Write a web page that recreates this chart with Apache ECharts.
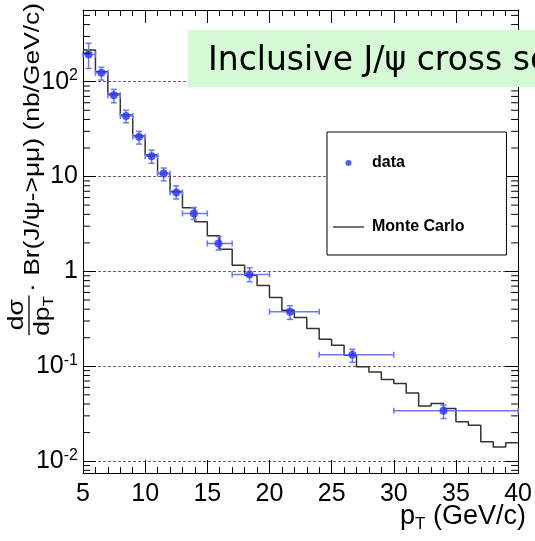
<!DOCTYPE html>
<html><head><meta charset="utf-8">
<script src="https://cdn.jsdelivr.net/npm/echarts@6/dist/echarts.min.js"></script>
<style>html,body{margin:0;padding:0;background:#fff}#c{width:535px;height:541px}</style>
</head><body><div id="c"></div>
<script>
// ---- data ----
const mcBinEdges = [5,6,7,8,9,10,11,12,13,14,15,16,17,18,19,20,21,22,23,24,25,26,27,28,29,30,31,32,33,34,35,36,37,38,39,40];
const mcValues = [216,127,74,44.6,26.7,16.9,10.8,6.95,4.7,3.33,2.38,1.71,1.16,0.91,0.71,0.53,0.39,0.327,0.25,0.193,0.167,0.131,0.099,0.087,0.0726,0.0659,0.0524,0.0382,0.0405,0.0359,0.026,0.0239,0.016,0.0141,0.0156];
const dataPt = [5.45,6.48,7.48,8.46,9.51,10.52,11.49,12.5,13.92,15.9,18.4,21.65,26.67,34.0];
const dataXLow = [5,6,7,8,9,10,11,12,13,15,17,20,24,30];
const dataXHigh = [6,7,8,9,10,11,12,13,15,17,20,24,30,40];
const dataY = [194,124,72,43.5,26.3,16.4,10.8,6.8,4.08,1.97,0.93,0.375,0.132,0.034];
const dataYLow = [138,104,60,36.9,22,13.8,9.0,5.8,3.53,1.68,0.78,0.312,0.11,0.0281];
const dataYHigh = [254,142,83,49.9,30,19,12.3,8.0,4.73,2.32,1.09,0.435,0.151,0.039];
const yTickExp = [-2,-1,0,1,2];
const yTickLabels = ['10{sup|-2}','10{sup|-1}','1','10','10{sup|2}'];
const X_MIN = 5, X_MAX = 40, Y_MIN = 0.0075, Y_MAX = 570;
const titleText = 'Inclusive J/\u03c8 cross section';
const yTitleText = '\u00b7 Br(J/\u03c8->\u03bc\u03bc) (nb/GeV/c)';

// ---- build ----
const L = v => Math.log10(v);
const mcLine = mcBinEdges.map((e, i) => [e, L(mcValues[Math.min(i, mcValues.length - 1)])]);
const errData = dataPt.map((x, i) => [x, L(dataY[i]), dataXLow[i], dataXHigh[i], L(dataYLow[i]), L(dataYHigh[i])]);
const ptData = dataPt.map((x, i) => [x, L(dataY[i])]);
const minorVals = [];
for (let n = -3; n <= 2; n++) for (let k = 2; k <= 9; k++) {
  const v = k * Math.pow(10, n);
  if (v > Y_MIN && v < Y_MAX) minorVals.push([X_MIN, L(v)]);
}
const labelFont = "'Liberation Sans Narrow', 'Liberation Sans', Arial, sans-serif";
const AX = '#000';

const chart = echarts.init(document.getElementById('c'));
const yAxisBase = {
  type: 'value', min: L(Y_MIN), max: L(Y_MAX), splitNumber: 5,
  axisLine: {show: true, onZero: false, lineStyle: {color: AX, width: 1}},
  axisTick: {show: true, inside: true, length: 13, lineStyle: {color: AX}},
};
const xAxisBase = {
  type: 'value', min: X_MIN, max: X_MAX, interval: 5,
  axisLine: {show: true, onZero: false, lineStyle: {color: AX, width: 1}},
  axisTick: {show: true, inside: true, length: 13, lineStyle: {color: AX}},
  minorTick: {show: true, splitNumber: 5, length: 6, lineStyle: {color: AX}},
  splitLine: {show: false}
};
chart.setOption({
  animation: false,
  backgroundColor: '#fff',
  grid: {left: 83, right: 10, top: 10, bottom: 68},
  xAxis: [
    Object.assign({}, xAxisBase, {position: 'bottom',
      axisLabel: {show: true, color: '#000', fontSize: 25, fontFamily: labelFont, margin: 9}}),
    Object.assign({}, xAxisBase, {position: 'top', axisLabel: {show: false}})
  ],
  yAxis: [
    Object.assign({}, yAxisBase, {position: 'left',
      splitLine: {show: true, lineStyle: {color: '#666', type: [3, 2], width: 1}},
      axisLabel: {show: true, margin: 5, color: '#000', fontSize: 25, fontFamily: labelFont,
        formatter: v => { const i = yTickExp.findIndex(e => Math.abs(e - v) < 1e-6); return i < 0 ? '' : yTickLabels[i]; },
        rich: {sup: {fontSize: 16, fontFamily: labelFont, color: '#000', padding: [0, 0, 12, 0]}}}}),
    Object.assign({}, yAxisBase, {position: 'right', splitLine: {show: false}, axisLabel: {show: false}})
  ],
  legend: {
    orient: 'vertical', left: 327, top: 132,
    backgroundColor: '#fff', borderColor: '#000', borderWidth: 1, borderRadius: 0,
    padding: [21, 42, 18, 6], itemGap: 44, itemWidth: 31, itemHeight: 6,
    textStyle: {color: '#000', fontSize: 16, fontWeight: 'bold', fontFamily: "'Liberation Sans', Arial, sans-serif", lineHeight: 20, padding: [0, 0, 0, 3]},
    data: [{name: 'data', icon: 'circle'}, {name: 'Monte Carlo', icon: 'path://M0,0L62,0L62,3L0,3Z'}]
  },
  series: [
    {
      name: 'Monte Carlo', type: 'line', step: 'end', data: mcLine, symbol: 'none', z: 3,
      lineStyle: {color: '#333', width: 1.5}, itemStyle: {color: '#444'}
    },
    {
      name: 'data errors', type: 'custom', z: 4, silent: true,
      encode: {x: [0, 2, 3], y: [1, 4, 5]},
      data: errData,
      renderItem: function (params, api) {
        const p = api.coord([api.value(0), api.value(1)]);
        const xl = api.coord([api.value(2), api.value(1)]);
        const xh = api.coord([api.value(3), api.value(1)]);
        const yl = api.coord([api.value(0), api.value(4)]);
        const yh = api.coord([api.value(0), api.value(5)]);
        const st = {stroke: '#6b78f2', lineWidth: 1.5};
        const c = 3;
        const seg = (x1, y1, x2, y2) => ({type: 'line', shape: {x1, y1, x2, y2}, style: st});
        return {type: 'group', children: [
          seg(xl[0], p[1], xh[0], p[1]),
          seg(xl[0], p[1] - c, xl[0], p[1] + c),
          seg(xh[0], p[1] - c, xh[0], p[1] + c),
          seg(p[0], yl[1], p[0], yh[1]),
          seg(p[0] - c, yl[1], p[0] + c, yl[1]),
          seg(p[0] - c, yh[1], p[0] + c, yh[1])
        ]};
      }
    },
    {
      name: 'data', type: 'scatter', data: ptData, symbol: 'circle', symbolSize: 8, z: 5,
      itemStyle: {color: '#2a36f0'}
    },
    {
      name: 'minor y ticks', type: 'custom', silent: true, clip: false, z: 6,
      data: minorVals,
      renderItem: function (params, api) {
        const a = api.coord([X_MIN, api.value(1)]);
        const b = api.coord([X_MAX, api.value(1)]);
        const st = {stroke: AX, lineWidth: 1};
        return {type: 'group', children: [
          {type: 'line', shape: {x1: a[0], y1: a[1], x2: a[0] + 7, y2: a[1]}, style: st},
          {type: 'line', shape: {x1: b[0] - 7, y1: b[1], x2: b[0], y2: b[1]}, style: st}
        ]};
      }
    }
  ],
  graphic: [
    {type: 'rect', z: 100, shape: {x: 188, y: 30, width: 400, height: 57}, style: {fill: '#d4f9d4'}},
    {type: 'text', z: 101, x: 208, y: 61, style: {text: titleText, fill: '#000',
      font: "33px 'DejaVu Sans', sans-serif", textAlign: 'left', textVerticalAlign: 'middle'}},
    {type: 'text', z: 101, x: 526, y: 517, style: {text: 'p{sub|T} (GeV/c)', fill: '#000',
      font: "27px 'Liberation Sans', Arial, sans-serif", textAlign: 'right', textVerticalAlign: 'middle',
      rich: {sub: {fontSize: 17, fontFamily: "'Liberation Sans', Arial, sans-serif", fill: '#000', padding: [14, 0, 0, 0]}}}},
    {type: 'group', x: 29, y: 340, rotation: Math.PI / 2, scaleX: 1.2, scaleY: 1, z: 101, children: [
      {type: 'line', shape: {x1: 4, y1: 0, x2: 37, y2: 0}, style: {stroke: '#222', lineWidth: 1.5}},
      {type: 'text', x: 21, y: -1, style: {text: 'd\u03c3', fill: '#000', font: "22px 'Liberation Sans', Arial, sans-serif",
        textAlign: 'center', textVerticalAlign: 'bottom'}},
      {type: 'text', x: 20, y: 1, style: {text: 'dp{sub|T}', fill: '#000', font: "22px 'Liberation Sans', Arial, sans-serif",
        textAlign: 'center', textVerticalAlign: 'top',
        rich: {sub: {fontSize: 14, fontFamily: "'Liberation Sans', Arial, sans-serif", fill: '#000', padding: [12, 0, 0, 0]}}}},
      {type: 'text', x: 40, y: 4, style: {text: yTitleText, fill: '#000', font: "22px 'Liberation Sans', Arial, sans-serif",
        textAlign: 'left', textVerticalAlign: 'middle'}}
    ]}
  ]
});
</script></body></html>
